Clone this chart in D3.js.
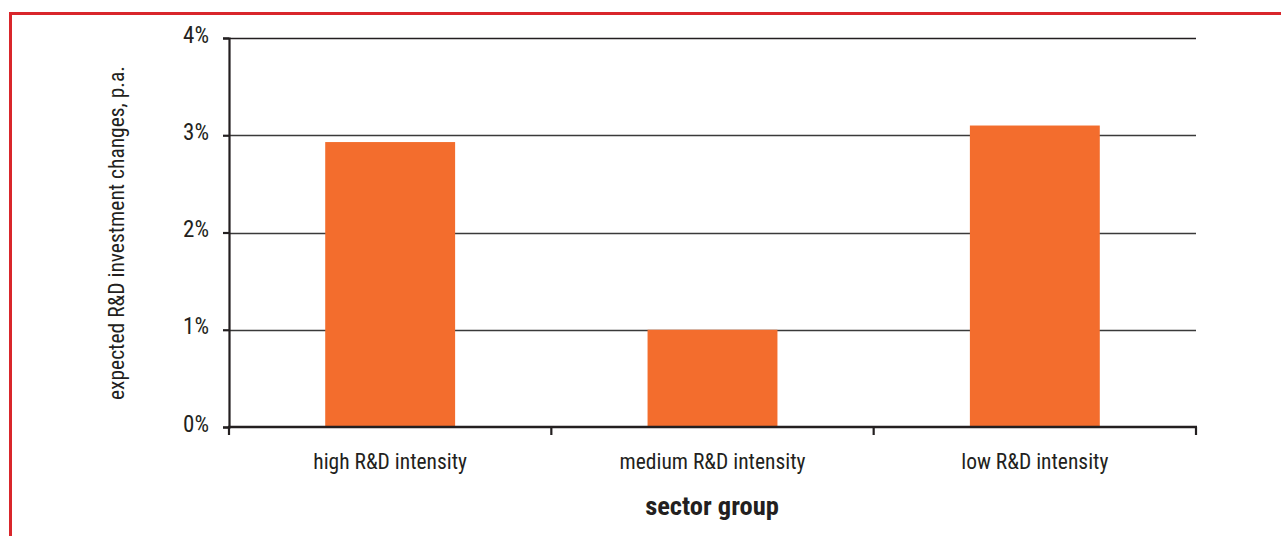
<!DOCTYPE html>
<html><head><meta charset="utf-8">
<script src="https://cdn.jsdelivr.net/npm/d3@7"></script>
<style>
html,body{margin:0;padding:0;background:#fff;}
svg{display:block;}
text{font-family:"Liberation Sans Narrow","Arial Narrow","Roboto Condensed","Liberation Sans",sans-serif;fill:#231f20;}
</style></head>
<body><svg id="c" width="1281" height="536"></svg>
<script>
const categories = ["high R&D intensity", "medium R&D intensity", "low R&D intensity"];
const values = [2.93, 1.0, 3.1];
const yTicks = [0, 1, 2, 3, 4];
const yTickLabels = ["0%", "1%", "2%", "3%", "4%"];
const yTitle = "expected R&D investment changes, p.a.";
const xTitle = "sector group";

const svg = d3.select("#c");
// red frame
svg.append("line").attr("x1",10.5).attr("x2",1281).attr("y1",13.5).attr("y2",13.5)
  .attr("stroke","#d9262b").attr("stroke-width",3);
svg.append("line").attr("x1",10.5).attr("x2",10.5).attr("y1",12).attr("y2",536)
  .attr("stroke","#d9262b").attr("stroke-width",3);

const L=229, R=1196, T=38, B=427;
const x = d3.scaleBand().domain(categories).range([L,R]).padding(0);
const y = d3.scaleLinear().domain([0,4]).range([B,T]);

// gridlines
svg.append("g").selectAll("line").data(yTicks.filter(d=>d>0)).join("line")
  .attr("x1",L).attr("x2",R).attr("y1",d=>Math.round(y(d))+0.5).attr("y2",d=>Math.round(y(d))+0.5)
  .attr("stroke",d=>d===4?"#231f20":"#3a3a3a").attr("stroke-width",1.5);

// bars
const bw = x.bandwidth()*0.403;
svg.append("g").selectAll("rect").data(values).join("rect")
  .attr("x",(d,i)=>x(categories[i])+x.bandwidth()/2-bw/2)
  .attr("width",bw)
  .attr("y",d=>y(d)).attr("height",d=>B-y(d))
  .attr("fill","#f36d2d");

// y axis
const yAxis = d3.axisLeft(y).tickValues(yTicks).tickFormat((d,i)=>yTickLabels[i]).tickSize(6).tickPadding(14);
const gy = svg.append("g").attr("transform",`translate(${L},0)`).call(yAxis);
gy.select(".domain").attr("stroke","#231f20").attr("stroke-width",2.2);
gy.selectAll(".tick line").attr("stroke","#231f20").attr("stroke-width",2.2);
gy.selectAll(".tick text").style("font-size","23px").attr("fill","#231f20").attr("dy","0.18em");

// x axis
const xTickPos = categories.map(c=>x(c)).concat([R]);
const gx = svg.append("g");
gx.append("line").attr("x1",L-1).attr("x2",R+1).attr("y1",B).attr("y2",B).attr("stroke","#231f20").attr("stroke-width",2.4);
gx.selectAll("line.t").data(xTickPos).join("line").attr("class","t")
  .attr("x1",d=>d).attr("x2",d=>d).attr("y1",B).attr("y2",B+8).attr("stroke","#231f20").attr("stroke-width",2.2);
gx.selectAll("text").data(categories).join("text")
  .attr("x",d=>x(d)+x.bandwidth()/2).attr("y",469)
  .attr("text-anchor","middle").style("font-size","21.5px").text(d=>d);

// titles
svg.append("text").attr("transform","translate(124,233) rotate(-90)")
  .attr("text-anchor","middle").style("font-size","21.5px").text(yTitle);
svg.append("text").attr("x",712).attr("y",515).attr("text-anchor","middle")
  .style("font-size","26.5px").style("font-weight","bold").text(xTitle);
</script></body></html>
